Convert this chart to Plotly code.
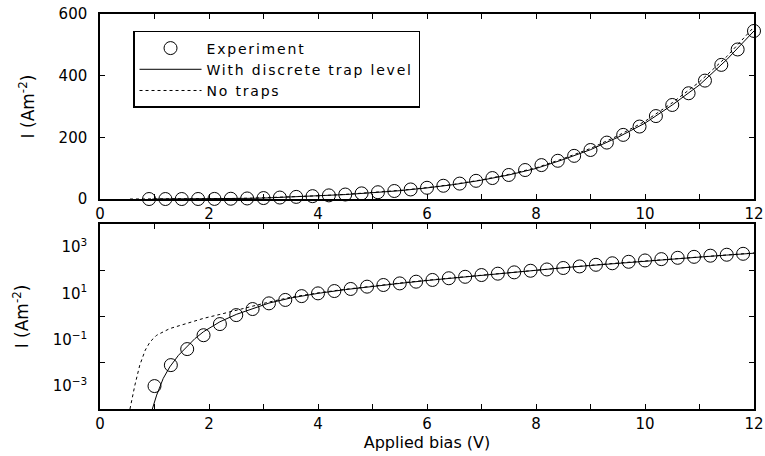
import plotly.graph_objects as go

# Experimental points (top, linear panel)
exp_top_x = [0.9, 1.2, 1.5, 1.8, 2.1, 2.4, 2.7, 3.0, 3.3, 3.6, 3.9, 4.2, 4.5, 4.8, 5.1,
             5.4, 5.7, 6.0, 6.3, 6.6, 6.9, 7.2, 7.5, 7.8, 8.1, 8.4, 8.7, 9.0, 9.3, 9.6,
             9.9, 10.2, 10.5, 10.8, 11.1, 11.4, 11.7, 12.0]
exp_top_y = [0.0003, 0.004, 0.025, 0.1, 0.35, 0.9, 1.8, 3.1, 4.8, 6.9, 9.3, 11.8, 14.6,
             18.3, 22, 26, 31, 36.5, 43, 50, 59, 68, 78, 94, 110, 124, 140, 159, 183, 208,
             235, 269, 305, 343, 384, 435, 485, 545]

# Experimental points (bottom, log panel)
exp_bot_x = [1.0, 1.3, 1.6, 1.9, 2.2, 2.5, 2.8, 3.1, 3.4, 3.7, 4.0, 4.3, 4.6, 4.9, 5.2,
             5.5, 5.8, 6.1, 6.4, 6.7, 7.0, 7.3, 7.6, 7.9, 8.2, 8.5, 8.8, 9.1, 9.4, 9.7,
             10.0, 10.3, 10.6, 10.9, 11.2, 11.5, 11.8]
exp_bot_y = [9.8e-4, 7.9e-3, 0.039, 0.155, 0.47, 1.15, 2.1, 3.7, 5.2, 7.6, 10, 12.6, 15.5,
             19.5, 23, 27, 32, 38, 45, 52, 62, 71, 81, 95, 108, 125, 146, 172, 200, 232,
             265, 302, 345, 380, 425, 468, 513]

# Model: with discrete trap level
trap_x = [0.96, 1.04, 1.16, 1.28, 1.44, 1.59, 1.74, 1.9, 2.2, 2.5, 2.8, 3.1, 3.5, 4.0, 4.5,
          5.0, 5.5, 6.0, 6.5, 7.0, 7.5, 8.0, 8.5, 9.0, 9.5, 10.0, 10.5, 11.0, 11.5, 12.0]
trap_y = [1e-4, 4.0e-4, 2.1e-3, 6.6e-3, 0.021, 0.049, 0.11, 0.22, 0.59, 1.23, 2.24, 3.8, 6.3,
          10, 14.5, 20.5, 27, 36, 47, 61, 78, 99, 128, 160, 200, 246, 305, 370, 452, 545]

# Model: no traps
notrap_x = [0.55, 0.64, 0.73, 0.83, 0.92, 1.04, 1.28, 1.59, 1.9, 2.2, 2.5, 2.8, 3.1, 3.5, 4.0,
            4.5, 5.0, 5.5, 6.0, 6.5, 7.0, 7.5, 8.0, 8.5, 9.0, 9.5, 10.0, 10.5, 11.0, 11.5, 12.0]
notrap_y = [1e-4, 1.07e-3, 7.9e-3, 0.035, 0.081, 0.155, 0.30, 0.50, 0.83, 1.23, 1.9, 2.9, 4.2,
            6.8, 10.5, 15, 21, 28, 37, 48, 62, 80, 101, 131, 164, 205, 252, 312, 380, 462, 558]

series_names = ["Experiment", "With discrete trap level", "No traps"]

log_tickvals = [1e-3, 1e-1, 1e1, 1e3]
log_ticktext = ["10<sup>−3</sup>", "10<sup>−1</sup>", "10<sup>1</sup>", "10<sup>3</sup>"]

FONT = "DejaVu Sans"
marker = dict(symbol="circle-open", size=13, color="black", line=dict(width=1, color="black"))


def wide(t):
    return '<span style="letter-spacing:1.8px">' + t + "</span>"


fig = go.Figure()
# Top panel
fig.add_trace(go.Scatter(x=exp_top_x, y=exp_top_y, mode="markers", marker=marker,
                         name=wide(series_names[0]), xaxis="x", yaxis="y", cliponaxis=False))
fig.add_trace(go.Scatter(x=trap_x, y=trap_y, mode="lines", line=dict(color="black", width=1),
                         name=wide(series_names[1]), xaxis="x", yaxis="y"))
fig.add_trace(go.Scatter(x=notrap_x, y=notrap_y, mode="lines",
                         line=dict(color="black", width=1, dash="dot"),
                         name=wide(series_names[2]), xaxis="x", yaxis="y"))
# Bottom panel
fig.add_trace(go.Scatter(x=exp_bot_x, y=exp_bot_y, mode="markers", marker=marker,
                         showlegend=False, xaxis="x2", yaxis="y2"))
fig.add_trace(go.Scatter(x=trap_x, y=trap_y, mode="lines", line=dict(color="black", width=1),
                         showlegend=False, xaxis="x2", yaxis="y2"))
fig.add_trace(go.Scatter(x=notrap_x, y=notrap_y, mode="lines",
                         line=dict(color="black", width=1, dash="dot"),
                         showlegend=False, xaxis="x2", yaxis="y2"))

axis_common = dict(showline=True, linecolor="black", linewidth=1.5, mirror="ticks",
                   showgrid=False, zeroline=False, ticks="inside", ticklen=5,
                   tickcolor="black", tickwidth=1, automargin=False,
                   tickfont=dict(family=FONT, size=15, color="black"))

xcommon = dict(axis_common, range=[0, 12], dtick=2, tick0=0,
               minor=dict(dtick=1, ticks="inside", ticklen=5, tickcolor="black"))

ytitle_font = dict(family=FONT, size=17, color="black")

fig.update_layout(
    width=765, height=456,
    margin=dict(l=100, r=11, t=14, b=47, autoexpand=False),
    paper_bgcolor="white", plot_bgcolor="white",
    font=dict(family=FONT, color="black"),
    xaxis=dict(xcommon, domain=[0, 1], anchor="y"),
    yaxis=dict(axis_common, domain=[0.5316, 1], anchor="x", range=[0, 600], dtick=200,
               ticklabelstandoff=8,
               title=dict(text="I (Am<sup>-2</sup>)", font=ytitle_font, standoff=20)),
    xaxis2=dict(xcommon, domain=[0, 1], anchor="y2",
                title=dict(text="Applied bias (V)", font=dict(family=FONT, size=16),
                           standoff=0)),
    yaxis2=dict(axis_common, domain=[0, 0.4684], anchor="x2", type="log", range=[-4, 4],
                tickmode="array", tickvals=log_tickvals, ticktext=log_ticktext, ticks="",
                ticklabelstandoff=8,
                minor=dict(tickmode="array", tickvals=[1e-2, 1, 1e2], ticks="inside",
                           ticklen=5, tickcolor="black"),
                title=dict(text="I (Am<sup>-2</sup>)", font=ytitle_font, standoff=20)),
    legend=dict(x=0.0505, y=0.957, xanchor="left", yanchor="top",
                bgcolor="white", bordercolor="black", borderwidth=1.5,
                font=dict(family=FONT, size=14, color="black"),
                itemwidth=62, tracegroupgap=0),
    showlegend=True,
)

fig.write_html("out.html")
